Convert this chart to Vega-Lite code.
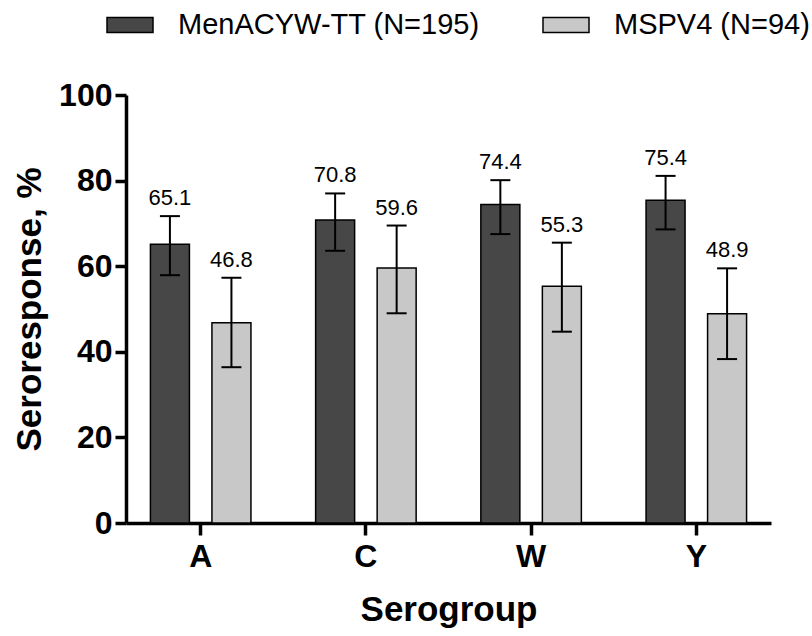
{
  "$schema": "https://vega.github.io/schema/vega-lite/v6.json",
  "autosize": {"type": "none"},
  "padding": {"left": 126, "top": 95, "right": 41, "bottom": 113},
  "width": 645,
  "height": 428,
  "background": "white",
  "config": {
    "font": "Liberation Sans",
    "view": {"stroke": null},
    "axis": {"domainColor": "black", "tickColor": "black", "labelColor": "black", "titleColor": "black", "grid": false}
  },
  "data": {
    "values": [
      {"serogroup": "A", "group": "MenACYW-TT (N=195)", "value": 65.1, "lo": 57.9, "hi": 71.7},
      {"serogroup": "A", "group": "MSPV4 (N=94)", "value": 46.8, "lo": 36.4, "hi": 57.3},
      {"serogroup": "C", "group": "MenACYW-TT (N=195)", "value": 70.8, "lo": 63.6, "hi": 77.0},
      {"serogroup": "C", "group": "MSPV4 (N=94)", "value": 59.6, "lo": 49.0, "hi": 69.5},
      {"serogroup": "W", "group": "MenACYW-TT (N=195)", "value": 74.4, "lo": 67.5, "hi": 80.1},
      {"serogroup": "W", "group": "MSPV4 (N=94)", "value": 55.3, "lo": 44.7, "hi": 65.5},
      {"serogroup": "Y", "group": "MenACYW-TT (N=195)", "value": 75.4, "lo": 68.6, "hi": 81.1},
      {"serogroup": "Y", "group": "MSPV4 (N=94)", "value": 48.9, "lo": 38.3, "hi": 59.5}
    ]
  },
  "encoding": {
    "x": {
      "field": "serogroup", "type": "nominal",
      "scale": {"paddingInner": 0.096, "paddingOuter": 0},
      "axis": {
        "title": "Serogroup", "titleFontSize": 35, "titleFontWeight": "bold", "titlePadding": 20,
        "labelFontSize": 32, "labelFontWeight": "bold", "labelAngle": 0, "labelPadding": 6,
        "tickSize": 12, "tickWidth": 3.5, "domainWidth": 3.5
      }
    },
    "xOffset": {
      "field": "group", "type": "nominal",
      "sort": ["MenACYW-TT (N=195)", "MSPV4 (N=94)"],
      "scale": {"paddingInner": 0.366, "paddingOuter": 0.397}
    }
  },
  "layer": [
    {
      "mark": {"type": "bar", "stroke": "black", "strokeWidth": 1.5},
      "encoding": {
        "y": {
          "field": "value", "type": "quantitative",
          "scale": {"domain": [0, 100], "nice": false},
          "axis": {
            "title": "Seroresponse, %", "titleFontSize": 35, "titleFontWeight": "bold", "titlePadding": 11,
            "values": [0, 20, 40, 60, 80, 100],
            "labelFontSize": 32, "labelFontWeight": "bold", "labelPadding": 3,
            "tickSize": 11, "tickWidth": 3.5, "domainWidth": 3.5
          }
        },
        "color": {
          "field": "group", "type": "nominal",
          "sort": ["MenACYW-TT (N=195)", "MSPV4 (N=94)"],
          "scale": {"domain": ["MenACYW-TT (N=195)", "MSPV4 (N=94)"], "range": ["#474747", "#c8c8c8"]},
          "legend": {
            "orient": "none", "legendX": -20, "legendY": -94, "direction": "horizontal",
            "title": null, "padding": 0,
            "symbolType": "M-1,-0.33H1V0.33H-1Z", "symbolSize": 2116,
            "symbolStrokeColor": "black", "symbolStrokeWidth": 1.5, "symbolOpacity": 1,
            "labelFontSize": 29, "labelOffset": 24, "columnPadding": 60, "labelLimit": 0,
            "labelColor": "black"
          }
        }
      }
    },
    {
      "mark": {"type": "rule", "color": "black", "strokeWidth": 2},
      "encoding": {
        "y": {"field": "lo", "type": "quantitative"},
        "y2": {"field": "hi"}
      }
    },
    {
      "mark": {"type": "tick", "color": "black", "orient": "horizontal", "size": 20, "thickness": 2, "opacity": 1},
      "encoding": {"y": {"field": "hi", "type": "quantitative"}}
    },
    {
      "mark": {"type": "tick", "color": "black", "orient": "horizontal", "size": 20, "thickness": 2, "opacity": 1},
      "encoding": {"y": {"field": "lo", "type": "quantitative"}}
    },
    {
      "mark": {"type": "text", "fontSize": 22, "baseline": "alphabetic", "dy": -11, "color": "black"},
      "encoding": {
        "y": {"field": "hi", "type": "quantitative"},
        "text": {"field": "value", "type": "quantitative", "format": ".1f"}
      }
    }
  ]
}
